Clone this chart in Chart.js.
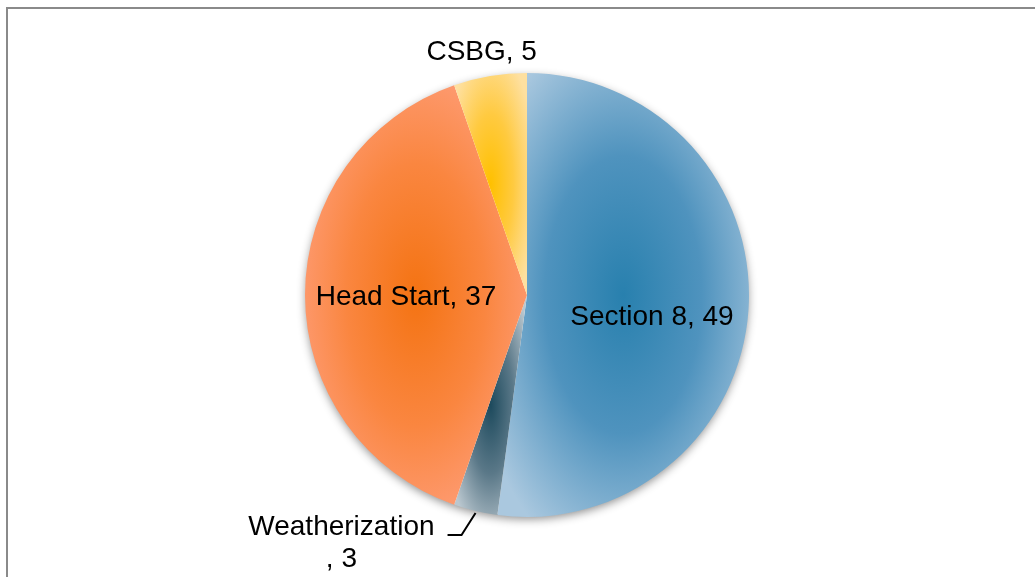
<!DOCTYPE html>
<html>
<head>
<meta charset="utf-8">
<script src="https://cdn.jsdelivr.net/npm/chart.js@4"></script>
<style>
  html, body { margin: 0; padding: 0; background: #fff; }
  #chart { display: block; }
</style>
</head>
<body>
<canvas id="chart" width="1035" height="577"></canvas>
<script>
// data, clockwise from 12 o'clock
var categories = ["Section 8", "Weatherization", "Head Start", "CSBG"];
var values = [49, 3, 37, 5];

// gradient stops per slice: centre -> middle -> rim
var sliceStops = [
    ["#2880ae", "#4f93be", "#aac8df"],
    ["#1d4a5d", "#5a7888", "#bac7cf"],
    ["#f47312", "#fa8640", "#ffa283"],
    ["#ffc000", "#ffca40", "#fee0a0"]
];

// label placement: f = fraction of radius along the slice mid-angle
var labelPlace = [
    { f: 0.564, dx: 0, dy: 12 },
    { outside: true },
    { f: 0.545, dx: 0, dy: 0 },
    { f: 1.119, dx: -4, dy: 0 }
];

function pieGeometry(chart)
{
    var a = chart.chartArea;
    var cx = (a.left + a.right) / 2;
    var cy = (a.top + a.bottom) / 2;
    var r = Math.min(a.right - a.left, a.bottom - a.top) / 2;
    var total = values.reduce(function (s, v) { return s + v; }, 0);
    var cum = 0;
    var slices = values.map(function (v) {
        var s = -Math.PI / 2 + 2 * Math.PI * cum / total;
        cum += v;
        var e = -Math.PI / 2 + 2 * Math.PI * cum / total;
        return { start: s, end: e, mid: (s + e) / 2 };
    });
    return { cx: cx, cy: cy, r: r, slices: slices };
}

function sliceFill(context)
{
    var chart = context.chart;
    var i = context.dataIndex;
    if (!chart.chartArea) {
        return sliceStops[i][1];
    }
    var g = pieGeometry(chart);
    var sl = g.slices[i];
    var minX = g.cx, maxX = g.cx, minY = g.cy, maxY = g.cy;
    var steps = 120;
    for (var k = 0; k <= steps; k++) {
        var t = sl.start + (sl.end - sl.start) * k / steps;
        var x = g.cx + g.r * Math.cos(t);
        var y = g.cy + g.r * Math.sin(t);
        minX = Math.min(minX, x); maxX = Math.max(maxX, x);
        minY = Math.min(minY, y); maxY = Math.max(maxY, y);
    }
    var bx = (minX + maxX) / 2, by = (minY + maxY) / 2;
    var rx = Math.max((maxX - minX) / 2, 1) * 1.25;
    var ry = Math.max((maxY - minY) / 2, 1) * 1.25;

    var off = document.createElement("canvas");
    off.width = chart.width;
    off.height = chart.height;
    var octx = off.getContext("2d");
    octx.save();
    octx.translate(bx, by);
    octx.scale(rx, ry);
    var grad = octx.createRadialGradient(0, 0, 0, 0, 0, 1);
    grad.addColorStop(0, sliceStops[i][0]);
    grad.addColorStop(0.5, sliceStops[i][1]);
    grad.addColorStop(1, sliceStops[i][2]);
    octx.fillStyle = grad;
    octx.fillRect(-100, -100, 200, 200);
    octx.restore();
    return chart.ctx.createPattern(off, "no-repeat");
}

var framePlugin = {
    id: "frame",
    beforeDraw: function (chart) {
        var ctx = chart.ctx;
        ctx.save();
        ctx.strokeStyle = "#8a8a8a";
        ctx.lineWidth = 2;
        ctx.beginPath();
        ctx.moveTo(7, chart.height + 2);
        ctx.lineTo(7, 8);
        ctx.lineTo(chart.width + 2, 8);
        ctx.stroke();
        ctx.restore();
    },
    beforeDatasetsDraw: function (chart) {
        var g = pieGeometry(chart);
        var ctx = chart.ctx;
        ctx.save();
        ctx.shadowColor = "rgba(0,0,0,0.45)";
        ctx.shadowBlur = 10;
        ctx.shadowOffsetY = 3;
        ctx.fillStyle = "#ffffff";
        ctx.beginPath();
        ctx.arc(g.cx, g.cy, g.r - 1, 0, Math.PI * 2);
        ctx.fill();
        ctx.restore();
    }
};

var labelPlugin = {
    id: "sliceLabels",
    afterDatasetsDraw: function (chart) {
        var g = pieGeometry(chart);
        var ctx = chart.ctx;
        ctx.save();
        ctx.font = "28px 'Liberation Sans', Arial, sans-serif";
        ctx.fillStyle = "#000000";
        ctx.textAlign = "center";
        ctx.textBaseline = "alphabetic";
        var capHalf = 10;
        g.slices.forEach(function (sl, i) {
            var text = categories[i] + ", " + values[i];
            var p = labelPlace[i];
            if (!p.outside) {
                var x = g.cx + g.r * p.f * Math.cos(sl.mid) + p.dx;
                var y = g.cy + g.r * p.f * Math.sin(sl.mid) + p.dy;
                ctx.fillText(text, x, y + capHalf);
                return;
            }
            // leader line from the rim, then text block to its left
            var px = g.cx + g.r * Math.cos(sl.mid);
            var py = g.cy + g.r * Math.sin(sl.mid);
            var qx = px - 14, qy = py + 24;
            var sx = qx - 14;
            ctx.strokeStyle = "#000000";
            ctx.lineWidth = 2;
            ctx.beginPath();
            ctx.moveTo(px, py + 2);
            ctx.lineTo(qx, qy);
            ctx.lineTo(sx, qy);
            ctx.stroke();
            var line1 = categories[i];
            var line2 = ", " + values[i];
            var w = ctx.measureText(line1).width;
            var tx = sx - 13 - w / 2;
            ctx.fillText(line1, tx, qy - 10 + capHalf);
            ctx.fillText(line2, tx, qy + 22 + capHalf);
        });
        ctx.restore();
    }
};

function PieChart(canvasId)
{
    this.canvasId = canvasId;
    this.chart = undefined;
}

PieChart.prototype.render = function ()
{
    var ctx = document.getElementById(this.canvasId);
    this.chart = new Chart(ctx, {
        type: "pie",
        data: {
            labels: categories,
            datasets: [{
                data: values,
                backgroundColor: sliceFill,
                borderWidth: 0
            }]
        },
        options: {
            responsive: false,
            animation: false,
            layout: { padding: { top: 73, bottom: 60, left: 305, right: 286 } },
            plugins: {
                legend: { display: false },
                tooltip: { enabled: false }
            }
        },
        plugins: [framePlugin, labelPlugin]
    });
};

new PieChart("chart").render();
</script>
</body>
</html>
